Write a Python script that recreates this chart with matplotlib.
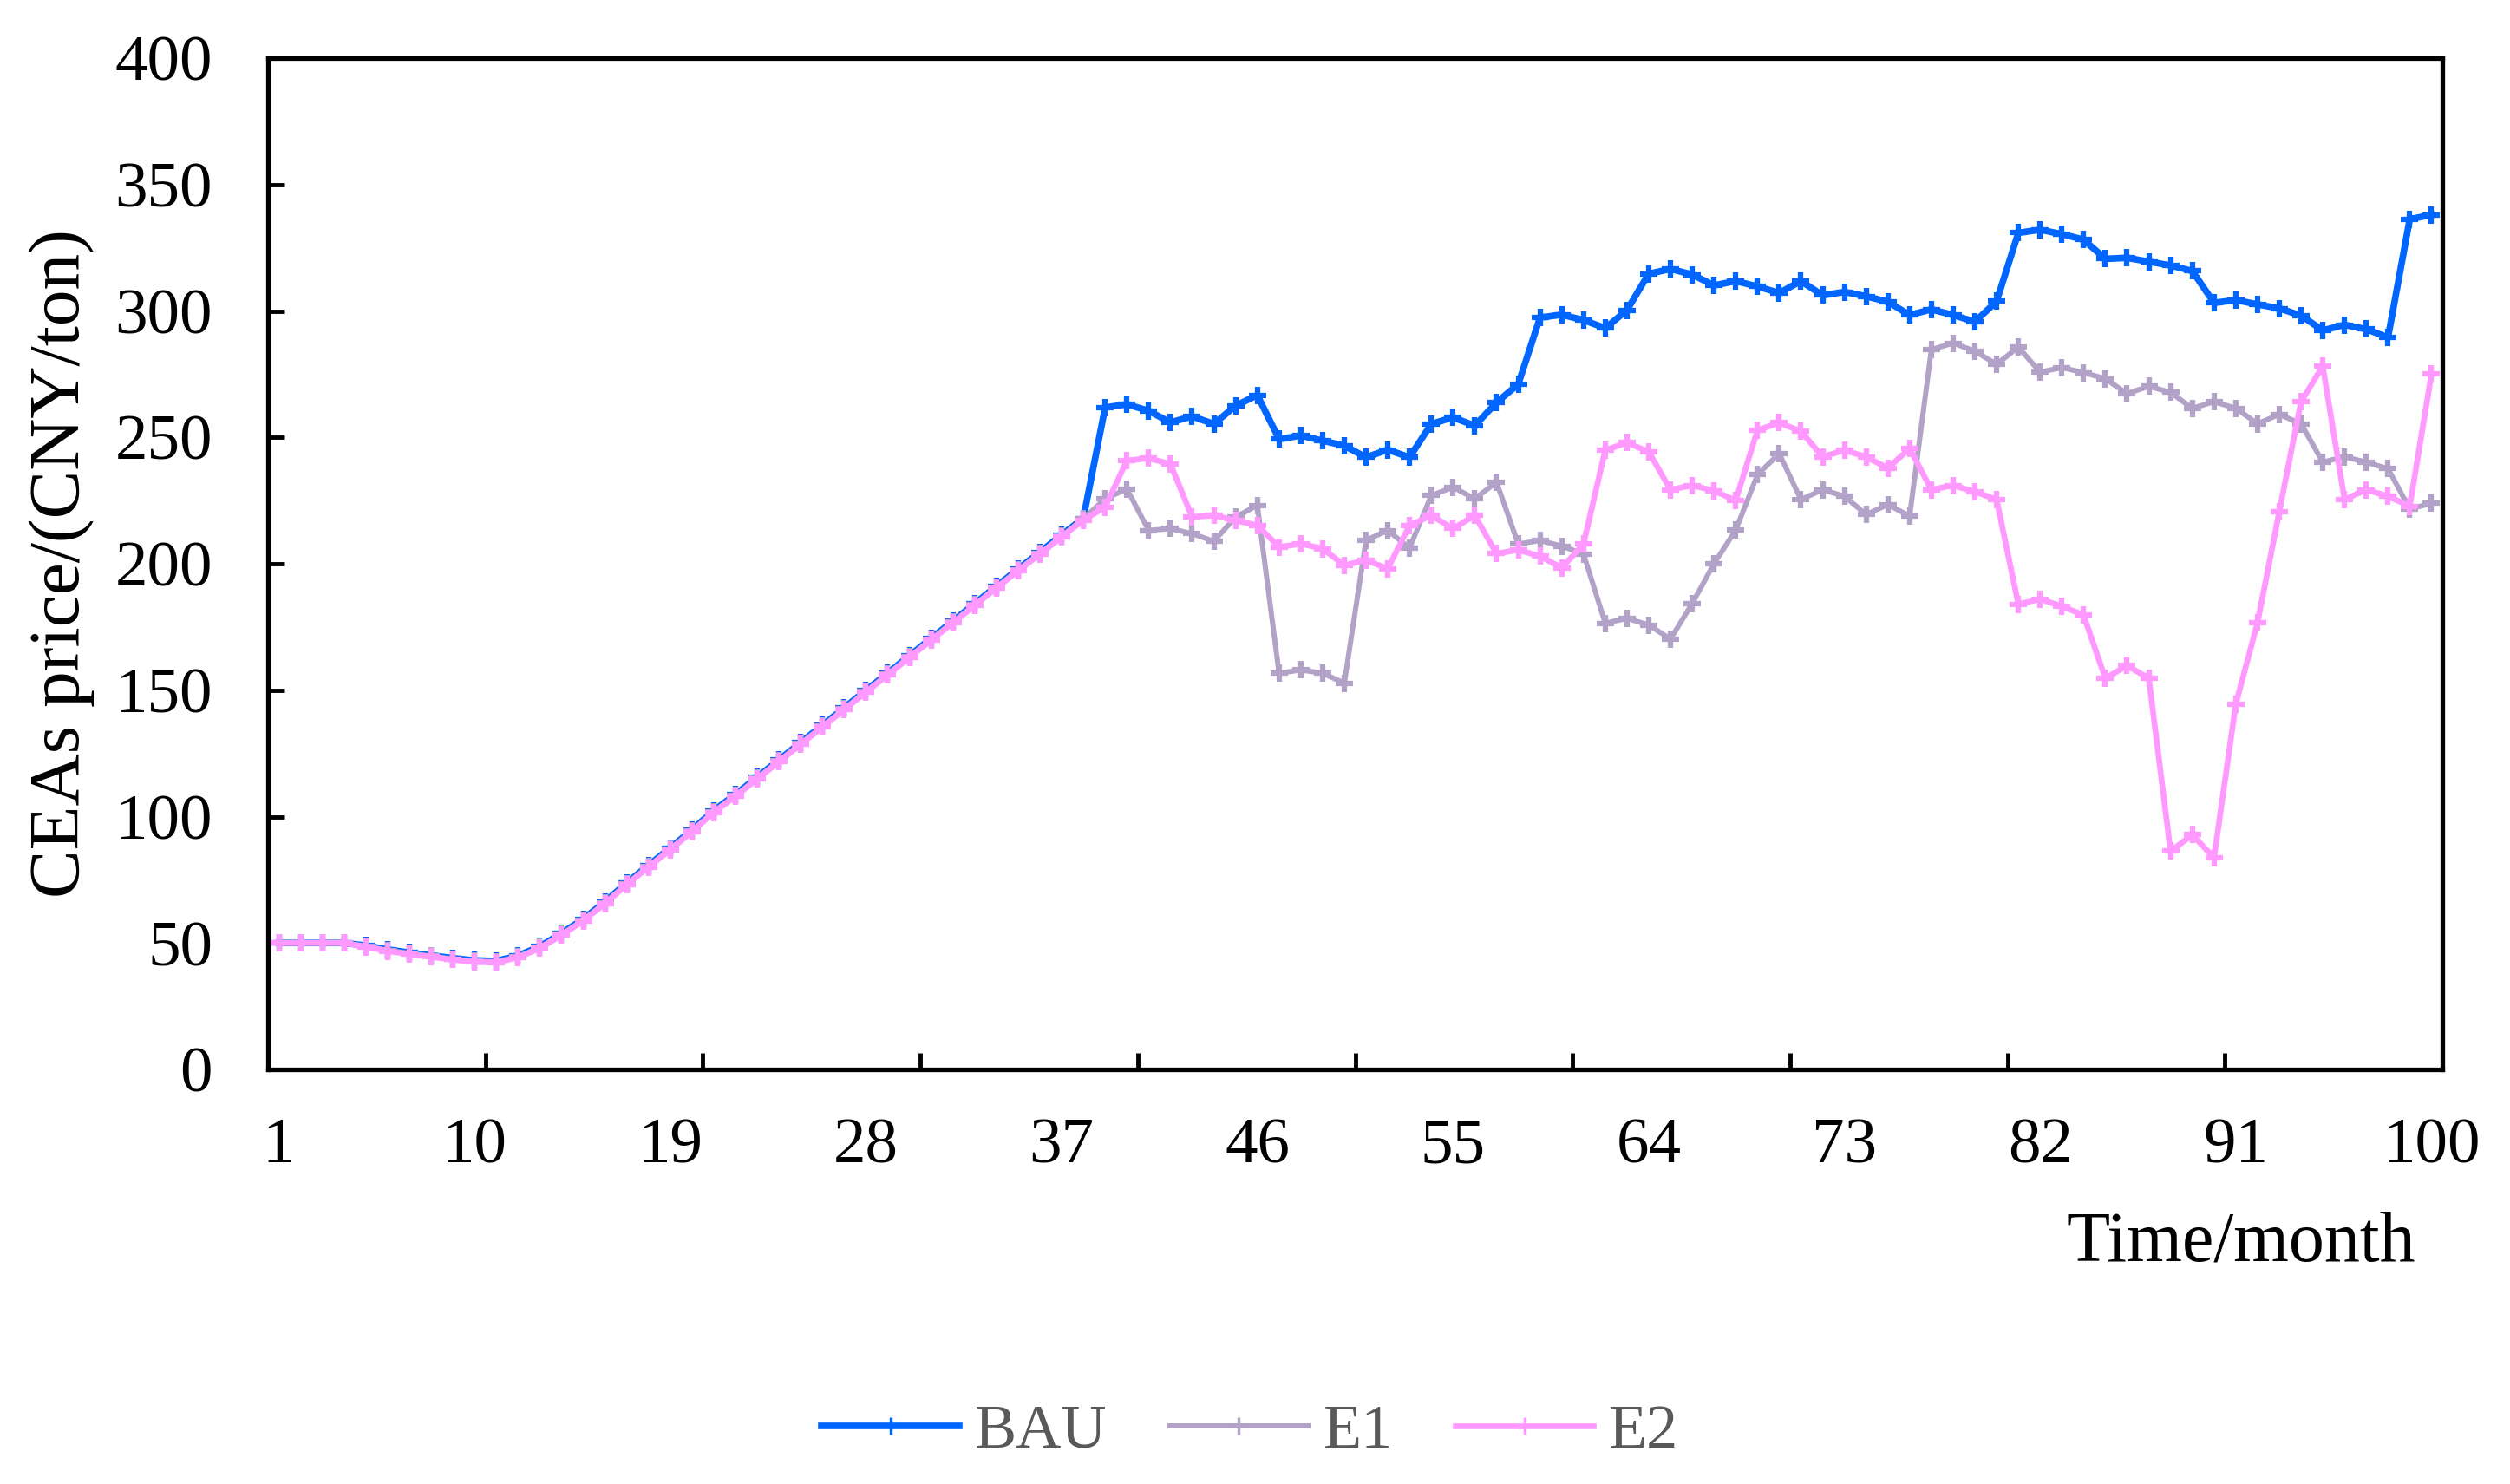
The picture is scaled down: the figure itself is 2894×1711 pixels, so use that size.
import matplotlib
matplotlib.use("Agg")
import matplotlib.pyplot as plt

plt.rcParams['font.family'] = ['Liberation Serif', 'DejaVu Serif']

months = list(range(1, 101))

bau = [50, 50, 50, 50, 49.0, 47.4, 46.2, 45.1, 44.0, 43.1, 42.9, 45.0, 48.6, 53.8, 59.5, 66.3, 73.8, 80.7, 87.6,
       94.7, 102.4, 108.7, 115.6, 122.4, 129.3, 136.1, 143.0, 149.9, 156.7, 163.6, 170.5, 177.3, 184.2, 191.1,
       197.9, 204.6, 211.4, 218.0,
       261.8, 263.1, 260.5, 255.9, 258.3, 255.3, 262.5, 266.7, 249.3, 250.7,
       248.7, 246.7, 242.1, 245.1, 242.1, 255.3, 257.9, 254.6, 263.8, 271.0,
       297.4, 298.5, 296.4, 293.2, 300.3, 314.7, 316.6, 314.4, 310.1, 311.8,
       309.7, 307.1, 311.8, 306.2, 307.5, 305.8, 303.6, 298.4, 300.6, 298.4,
       295.7, 303.8, 330.9, 332.1, 330.4, 328.2, 320.6, 321.0, 319.5, 318.0,
       315.8, 303.2, 304.3, 302.6, 301.0, 298.2, 292.3, 294.5, 292.8, 289.5,
       336.3, 338.0]

e1 = [50, 50, 50, 50, 48.8, 47.1, 45.9, 44.8, 43.7, 42.8, 42.6, 44.6, 48.2, 53.4, 59.1, 65.9, 73.4, 80.3, 87.2,
      94.3, 102.0, 108.3, 115.2, 122.0, 128.9, 135.7, 142.6, 149.5, 156.3, 163.2, 170.1, 176.9, 183.8, 190.7,
      197.5, 204.1, 210.9, 217.8,
      225.7, 229.6, 213.2, 213.9, 211.9, 208.9, 218.5, 223.1, 156.7, 158.0,
      156.7, 152.8, 209.3, 213.2, 206.2, 227.0, 230.3, 225.7, 232.3, 207.8,
      209.2, 207.0, 203.9, 176.5, 178.4, 175.8, 170.2, 184.3, 200.0, 213.3,
      235.2, 243.6, 225.4, 229.3, 226.7, 219.5, 223.4, 218.9, 284.7, 287.3,
      284.1, 278.9, 285.7, 275.8, 277.6, 275.6, 273.2, 267.3, 270.2, 267.8,
      261.5, 264.1, 261.5, 255.4, 259.1, 255.4, 240.2, 242.3, 240.2, 237.6,
      221.7, 223.9]

e2 = [50, 50, 50, 50, 48.5, 46.8, 45.6, 44.5, 43.4, 42.5, 42.3, 44.3, 47.9, 53.1, 58.8, 65.6, 73.1, 80.0, 86.9,
      94.0, 101.7, 108.0, 114.9, 121.7, 128.6, 135.4, 142.3, 149.2, 156.0, 162.9, 169.8, 176.6, 183.5, 190.4,
      197.2, 203.8, 210.6, 217.3,
      222.4, 240.8, 241.7, 239.5, 218.5, 219.1, 217.1, 215.2, 206.6, 207.9,
      206.0, 199.4, 201.4, 198.1, 215.2, 219.1, 213.9, 219.1, 204.0, 205.5,
      203.0, 198.4, 207.8, 244.9, 247.9, 244.3, 229.3, 231.0, 228.9, 225.0,
      252.8, 255.8, 252.4, 242.3, 244.9, 242.3, 237.8, 245.6, 229.3, 231.0,
      228.5, 225.4, 184.0, 186.0, 183.2, 179.7, 154.7, 159.7, 154.7, 86.3,
      92.8, 83.7, 144.5, 176.7, 220.6, 264.1, 278.2, 225.4, 229.3, 226.7,
      222.8, 275.0]

series_names = ['BAU', 'E1', 'E2']
series_colors = ['#0066FF', '#B3A2C7', '#FF99FF']
series_widths = [5.5, 4.3, 4.8]
x_labels = [1, 10, 19, 28, 37, 46, 55, 64, 73, 82, 91, 100]
y_ticks = [0, 50, 100, 150, 200, 250, 300, 350, 400]

fig = plt.figure(figsize=(28.94, 17.11), dpi=100)
ax = fig.add_axes([309 / 2894, 478 / 1711, 2507 / 2894, 1166 / 1711])

for data, name, color, lw in zip([bau, e1, e2], series_names, series_colors, series_widths):
    ax.plot(months, data, color=color, lw=lw, marker='+', ms=14, mew=4.5, label=name)

ax.set_xlim(0.5, 100.5)
ax.set_ylim(0, 400)

# tick marks every 10 months (between categories), labels every 9 months
ax.set_xticks([10.5 + 10 * i for i in range(9)])
ax.set_xticklabels([])
ax.set_xticks(x_labels, minor=True)
ax.set_xticklabels([str(v) for v in x_labels], minor=True)
ax.tick_params(axis='x', which='major', direction='in', length=14, width=3.5)
ax.tick_params(axis='x', which='minor', length=0, pad=40, labelsize=54)

ax.set_yticks(y_ticks)
ax.tick_params(axis='y', direction='in', length=14, width=3.5, pad=46, labelsize=54)

for side in ['left', 'right', 'top', 'bottom']:
    ax.spines[side].set_linewidth(3.8)

ax.text(-0.095, 0.5, 'CEAs price/(CNY/ton)', transform=ax.transAxes, rotation=90,
        ha='center', va='center', fontsize=60)
ax.text(0.9075, -0.172, 'Time/month', transform=ax.transAxes, ha='center', va='center', fontsize=59)

leg = fig.legend(loc='center', bbox_to_anchor=(0.498, 0.035), ncol=3, frameon=False, fontsize=52,
                 labelcolor='#595959', handlelength=2.2, handletextpad=0.25, columnspacing=1.0)
for line in leg.get_lines():
    line.set_markeredgewidth(2.5)

fig.savefig('out.png', dpi=100)
